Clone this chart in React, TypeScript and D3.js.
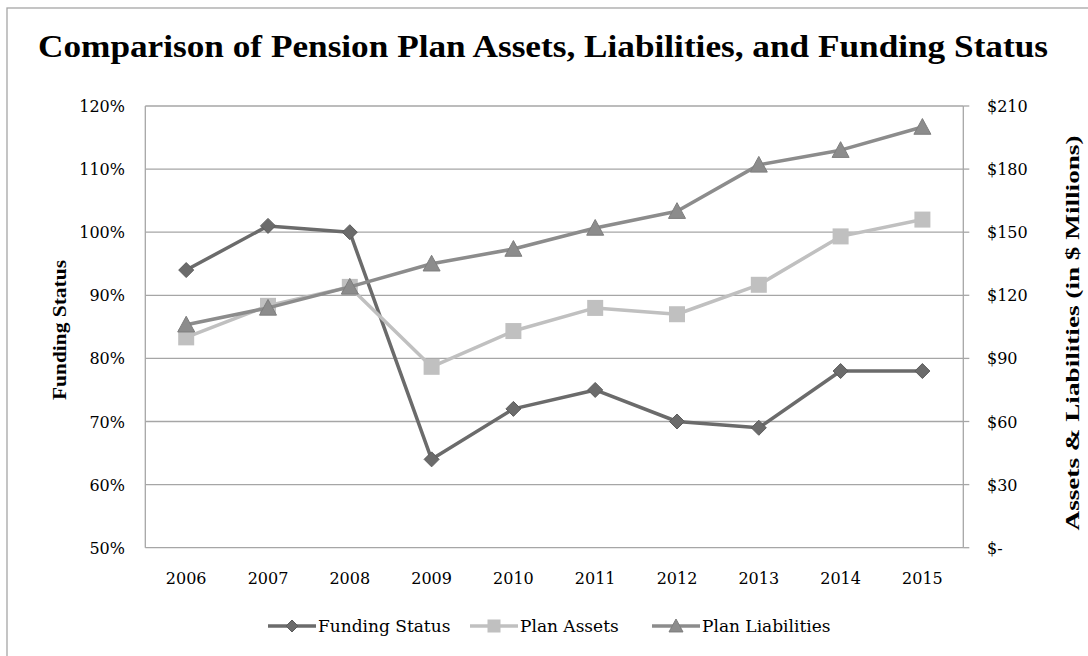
import React from "react";
import * as d3 from "d3";

const years = ["2006", "2007", "2008", "2009", "2010", "2011", "2012", "2013", "2014", "2015"];
const fundingStatus = [94, 101, 100, 64, 72, 75, 70, 69, 78, 78];
const planAssets = [100, 115, 124, 86, 103, 114, 111, 125, 148, 156];
const planLiabilities = [106, 114, 124, 135, 142, 152, 160, 182, 189, 200];
const leftTicks = [50, 60, 70, 80, 90, 100, 110, 120];
const rightTicks = [0, 30, 60, 90, 120, 150, 180, 210];

const W = 1088, H = 656;
const M = { left: 145.3, right: 963.3, top: 106, bottom: 547.7 };
const SERIF = "'DejaVu Serif', 'Liberation Serif', serif";
const TITLE_FONT = "'Liberation Serif', 'Times New Roman', serif";

export default function App() {
  const x = d3.scaleBand().domain(years).range([M.left, M.right]);
  const yL = d3.scaleLinear().domain([50, 120]).range([M.bottom, M.top]);
  const yR = d3.scaleLinear().domain([0, 210]).range([M.bottom, M.top]);
  const cx = (y: string) => (x(y) as number) + x.bandwidth() / 2;

  const lineL = d3.line<number>().x((_, i) => cx(years[i])).y((d) => yL(d));
  const lineR = d3.line<number>().x((_, i) => cx(years[i])).y((d) => yR(d));

  const cFund = "#6b6b6b", cFundStroke = "#5c5c5c";
  const cAssets = "#c0c0c0";
  const cLiab = "#8c8c8c", cLiabStroke = "#7e7e7e";

  const diamond = (px: number, py: number, s = 7.5) =>
    `M${px},${py - s}L${px + s},${py}L${px},${py + s}L${px - s},${py}Z`;
  const triangle = (px: number, py: number, s = 8.5) =>
    `M${px},${py - s}L${px + s},${py + s * 0.85}L${px - s},${py + s * 0.85}Z`;

  const legendY = 626;
  const legend = [
    { label: "Funding Status", x0: 268, type: "d" },
    { label: "Plan Assets", x0: 470, type: "s" },
    { label: "Plan Liabilities", x0: 652, type: "t" },
  ];

  return (
    <svg width={W} height={H} style={{ position: "absolute", left: 0, top: 0, background: "#fff" }}>
      <rect x={0} y={0} width={W} height={H} fill="#fff" />
      <rect x={7} y={8} width={W + 20} height={H + 20} fill="none" stroke="#a6a6a6" strokeWidth={1.3} />
      <text x={543} y={57} textAnchor="middle" fontFamily={TITLE_FONT} fontWeight="bold" fontSize={31}
        textLength={1010} lengthAdjust="spacingAndGlyphs" fill="#000">
        Comparison of Pension Plan Assets, Liabilities, and Funding Status
      </text>

      {/* gridlines */}
      {leftTicks.map((t) => (
        <line key={"g" + t} x1={M.left} x2={M.right} y1={yL(t)} y2={yL(t)} stroke="#a6a6a6" strokeWidth={1.3} />
      ))}
      {/* axes */}
      <line x1={M.left} x2={M.left} y1={M.top} y2={M.bottom} stroke="#a6a6a6" strokeWidth={1.3} />
      <line x1={M.right} x2={M.right} y1={M.top} y2={M.bottom} stroke="#a6a6a6" strokeWidth={1.3} />
      {rightTicks.map((t) => (
        <line key={"rt" + t} x1={M.right} x2={M.right + 6} y1={yR(t)} y2={yR(t)} stroke="#a6a6a6" strokeWidth={1.3} />
      ))}

      {/* left tick labels */}
      {leftTicks.map((t) => (
        <text key={"l" + t} x={125} y={yL(t) + 6} textAnchor="end" fontFamily={SERIF} fontSize={16} fill="#000">
          {t + "%"}
        </text>
      ))}
      {/* right tick labels */}
      {rightTicks.map((t) => (
        <text key={"r" + t} x={987} y={yR(t) + 6} textAnchor="start" fontFamily={SERIF} fontSize={16} fill="#000">
          {t === 0 ? "$-" : "$" + t}
        </text>
      ))}
      {/* x labels */}
      {years.map((yv) => (
        <text key={"x" + yv} x={cx(yv)} y={584} textAnchor="middle" fontFamily={SERIF} fontSize={16} fill="#000">
          {yv}
        </text>
      ))}

      {/* axis titles */}
      <text transform={`translate(66,330) rotate(-90)`} textAnchor="middle" fontFamily={TITLE_FONT} fontWeight="bold"
        fontSize={19} textLength={140} lengthAdjust="spacingAndGlyphs" fill="#000">
        Funding Status
      </text>
      <text transform={`translate(1079,333) rotate(-90)`} textAnchor="middle" fontFamily={TITLE_FONT} fontWeight="bold"
        fontSize={19} textLength={395} lengthAdjust="spacingAndGlyphs" fill="#000">
        Assets &amp; Liabilities (in $ Millions)
      </text>

      {/* series */}
      <path d={lineL(fundingStatus) || ""} fill="none" stroke={cFund} strokeWidth={3.5} strokeLinejoin="round" />
      {fundingStatus.map((v, i) => (
        <path key={"fd" + i} d={diamond(cx(years[i]), yL(v))} fill={cFund} stroke={cFundStroke} strokeWidth={1} />
      ))}
      <path d={lineR(planAssets) || ""} fill="none" stroke={cAssets} strokeWidth={3.5} strokeLinejoin="round" />
      {planAssets.map((v, i) => (
        <rect key={"pa" + i} x={cx(years[i]) - 8} y={yR(v) - 8} width={16} height={16} fill={cAssets} />
      ))}
      <path d={lineR(planLiabilities) || ""} fill="none" stroke={cLiab} strokeWidth={3.5} strokeLinejoin="round" />
      {planLiabilities.map((v, i) => (
        <path key={"pl" + i} d={triangle(cx(years[i]), yR(v))} fill={cLiab} stroke={cLiabStroke} strokeWidth={1} />
      ))}

      {/* legend */}
      {legend.map((e) => {
        const c = e.type === "d" ? cFund : e.type === "s" ? cAssets : cLiab;
        const mx = e.x0 + 24;
        return (
          <g key={e.label}>
            <line x1={e.x0} x2={e.x0 + 48} y1={legendY} y2={legendY} stroke={c} strokeWidth={3.5} />
            {e.type === "d" && <path d={diamond(mx, legendY, 6)} fill={cFund} stroke={cFundStroke} />}
            {e.type === "s" && <rect x={mx - 6.5} y={legendY - 6.5} width={13} height={13} fill={cAssets} />}
            {e.type === "t" && <path d={triangle(mx, legendY, 7)} fill={cLiab} stroke={cLiabStroke} />}
            <text x={e.x0 + 50} y={legendY + 6} fontFamily={SERIF} fontSize={17} fill="#000">{e.label}</text>
          </g>
        );
      })}
    </svg>
  );
}
